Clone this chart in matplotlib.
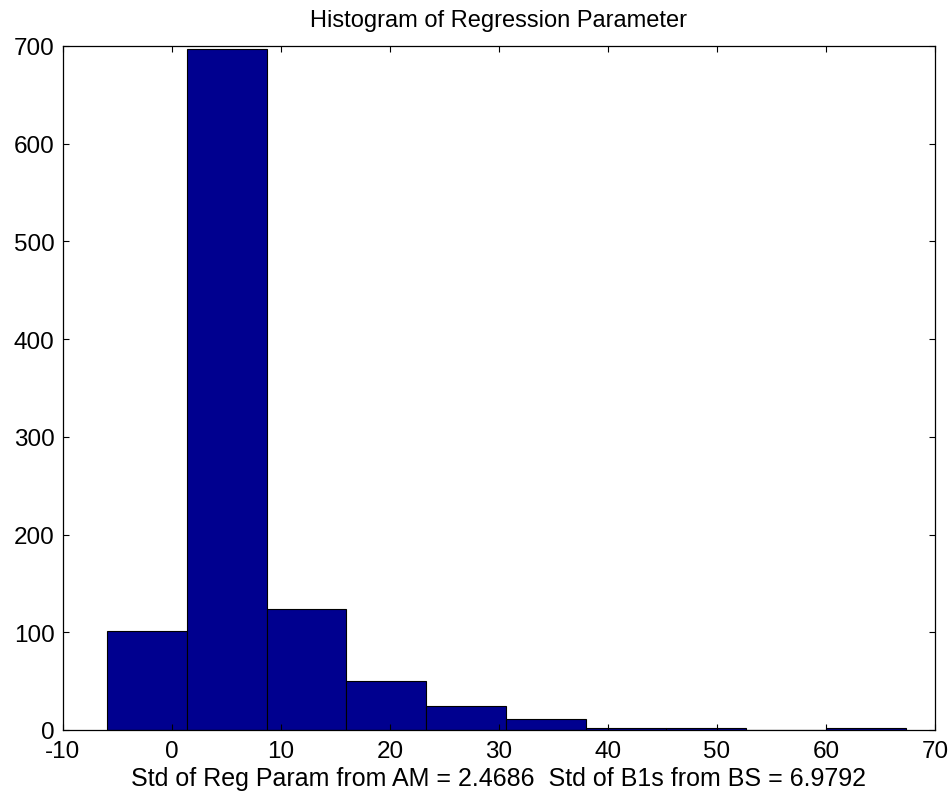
import numpy as np
import matplotlib
matplotlib.use('Agg')
from matplotlib import pyplot as plt

plt.rcParams['font.family'] = ['Liberation Sans', 'DejaVu Sans']
plt.rcParams['axes.unicode_minus'] = False

# histogram of bootstrap regression parameter: 10 equal bins
param_min = -5.99
param_max = 67.34
counts = [101, 697, 124, 50, 25, 11, 2, 2, 0, 2]

edges = np.linspace(param_min, param_max, len(counts) + 1)

fig = plt.figure(figsize=(9.51, 8.04), dpi=100)
ax = fig.add_axes([0.0662, 0.0908, 0.917, 0.851])

ax.bar(edges[:-1], counts, width=np.diff(edges), align='edge',
       color='#00008F', edgecolor='black', linewidth=0.8)

ax.set_xlim(-10, 70)
ax.set_ylim(0, 700)
ax.set_xticks(range(-10, 71, 10))
ax.set_yticks(range(0, 701, 100))
ax.tick_params(direction='in', length=4, width=0.8, top=True, right=True,
               labelsize=17.5)
ax.tick_params(axis='x', pad=7)
ax.tick_params(axis='y', pad=6)
for s in ax.spines.values():
    s.set_linewidth(0.9)

ax.set_title('Histogram of Regression Parameter', fontsize=17, pad=14)
ax.set_xlabel('Std of Reg Param from AM = 2.4686  Std of B1s from BS = 6.9792',
              fontsize=18, labelpad=3)

fig.savefig('out.png', dpi=100)
